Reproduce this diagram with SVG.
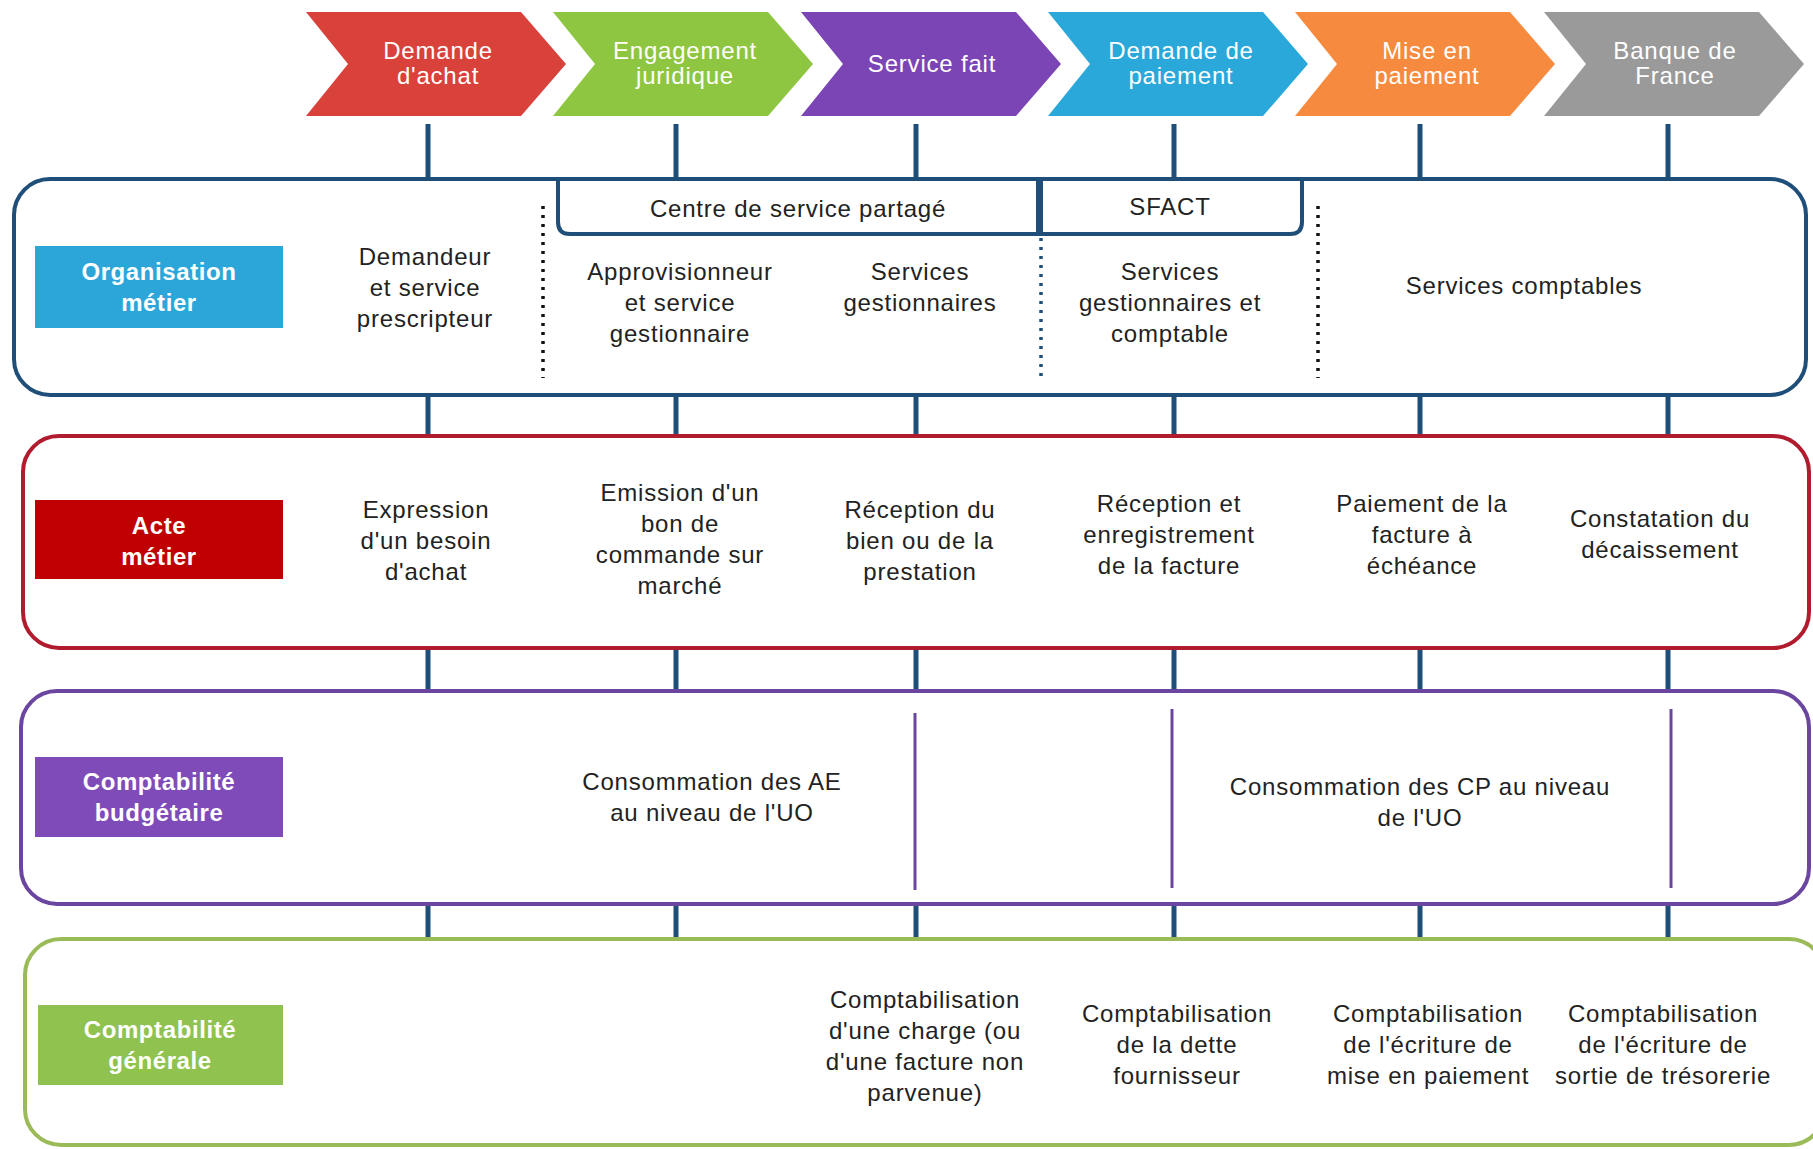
<svg xmlns="http://www.w3.org/2000/svg" width="1813" height="1149" viewBox="0 0 1813 1149">
<style>
.t{font-family:"Liberation Sans",Arial,sans-serif;font-size:24px;letter-spacing:0.8px;fill:#222;text-anchor:middle}
.ct{font-family:"Liberation Sans",Arial,sans-serif;font-size:24px;letter-spacing:0.8px;fill:#fff;text-anchor:middle}
.lb{font-family:"Liberation Sans",Arial,sans-serif;font-size:24px;font-weight:bold;letter-spacing:0.6px;fill:#fff;text-anchor:middle}
.conn{stroke:#1f4e79;stroke-width:5;fill:none}
.lane{fill:#fff;stroke-width:4}
.dot{stroke:#111;stroke-width:3.5;stroke-dasharray:3 6;fill:none}
.vl{stroke:#6b46a0;stroke-width:3;fill:none}
</style>
<rect width="1813" height="1149" fill="#fff"/>

<g id="connectors">
<path class="conn" d="M428,124V179M676,124V179M916,124V179M1174,124V179M1420,124V179M1668,124V179"/>
<path class="conn" d="M428,395V436M676,395V436M916,395V436M1174,395V436M1420,395V436M1668,395V436"/>
<path class="conn" d="M428,648V691M676,648V691M916,648V691M1174,648V691M1420,648V691M1668,648V691"/>
<path class="conn" d="M428,904V939M676,904V939M916,904V939M1174,904V939M1420,904V939M1668,904V939"/>
</g>

<g id="chevrons">
<g id="ch-demande-achat">
<polygon points="306,12 521,12 566,64 521,116 306,116 348,64" fill="#d9413b"/>
<text class="ct" x="438" y="59">Demande<tspan x="438" dy="25">d'achat</tspan></text>
</g>
<g id="ch-engagement">
<polygon points="553,12 768,12 813,64 768,116 553,116 595,64" fill="#8ec641"/>
<text class="ct" x="685" y="59">Engagement<tspan x="685" dy="25">juridique</tspan></text>
</g>
<g id="ch-service-fait">
<polygon points="801,12 1016,12 1061,64 1016,116 801,116 843,64" fill="#7c45b5"/>
<text class="ct" x="932" y="72">Service fait</text>
</g>
<g id="ch-demande-paiement">
<polygon points="1048,12 1263,12 1308,64 1263,116 1048,116 1090,64" fill="#29a8d9"/>
<text class="ct" x="1181" y="59">Demande de<tspan x="1181" dy="25">paiement</tspan></text>
</g>
<g id="ch-mise-paiement">
<polygon points="1295,12 1510,12 1555,64 1510,116 1295,116 1337,64" fill="#f68b3f"/>
<text class="ct" x="1427" y="59">Mise en<tspan x="1427" dy="25">paiement</tspan></text>
</g>
<g id="ch-bdf">
<polygon points="1544,12 1759,12 1804,64 1759,116 1544,116 1586,64" fill="#9a9a9a"/>
<text class="ct" x="1675" y="59">Banque de<tspan x="1675" dy="25">France</tspan></text>
</g>
</g>

<g id="lane-organisation">
<rect class="lane" x="14" y="179" width="1792" height="216" rx="36" stroke="#1f4e79"/>
<rect x="35" y="246" width="248" height="82" fill="#2ca6d9"/>
<text class="lb" x="159" y="280">Organisation<tspan x="159" dy="31">métier</tspan></text>
<text class="t" x="425" y="265">Demandeur<tspan x="425" dy="31">et service</tspan><tspan x="425" dy="31">prescripteur</tspan></text>
<path class="dot" d="M543,206V378"/>
<path d="M558,179V222Q558,234 570,234H1038V179" fill="none" stroke="#1f4e79" stroke-width="4"/>
<text class="t" x="798" y="217">Centre de service partagé</text>
<path d="M1041,179V234H1290Q1302,234 1302,222V179" fill="none" stroke="#1f4e79" stroke-width="4"/>
<text class="t" x="1170" y="215">SFACT</text>
<path d="M1041,238V382" fill="none" stroke="#1f4e79" stroke-width="3.5" stroke-dasharray="3 6"/>
<path class="dot" d="M1318,206V378"/>
<text class="t" x="680" y="280">Approvisionneur<tspan x="680" dy="31">et service</tspan><tspan x="680" dy="31">gestionnaire</tspan></text>
<text class="t" x="920" y="280">Services<tspan x="920" dy="31">gestionnaires</tspan></text>
<text class="t" x="1170" y="280">Services<tspan x="1170" dy="31">gestionnaires et</tspan><tspan x="1170" dy="31">comptable</tspan></text>
<text class="t" x="1524" y="294">Services comptables</text>
</g>

<g id="lane-acte">
<rect class="lane" x="23" y="436" width="1786" height="212" rx="36" stroke="#b01c2e"/>
<rect x="35" y="500" width="248" height="79" fill="#c00000"/>
<text class="lb" x="159" y="534">Acte<tspan x="159" dy="31">métier</tspan></text>
<text class="t" x="426" y="518">Expression<tspan x="426" dy="31">d'un besoin</tspan><tspan x="426" dy="31">d'achat</tspan></text>
<text class="t" x="680" y="501">Emission d'un<tspan x="680" dy="31">bon de</tspan><tspan x="680" dy="31">commande sur</tspan><tspan x="680" dy="31">marché</tspan></text>
<text class="t" x="920" y="518">Réception du<tspan x="920" dy="31">bien ou de la</tspan><tspan x="920" dy="31">prestation</tspan></text>
<text class="t" x="1169" y="512">Réception et<tspan x="1169" dy="31">enregistrement</tspan><tspan x="1169" dy="31">de la facture</tspan></text>
<text class="t" x="1422" y="512">Paiement de la<tspan x="1422" dy="31">facture à</tspan><tspan x="1422" dy="31">échéance</tspan></text>
<text class="t" x="1660" y="527">Constatation du<tspan x="1660" dy="31">décaissement</tspan></text>
</g>

<g id="lane-budgetaire">
<rect class="lane" x="21" y="691" width="1788" height="213" rx="36" stroke="#6b46a0"/>
<rect x="35" y="757" width="248" height="80" fill="#7e4bb8"/>
<text class="lb" x="159" y="790">Comptabilité<tspan x="159" dy="31">budgétaire</tspan></text>
<path class="vl" d="M915,713V890M1172,709V888M1671,709V888"/>
<text class="t" x="712" y="790">Consommation des AE<tspan x="712" dy="31">au niveau de l'UO</tspan></text>
<text class="t" x="1420" y="795">Consommation des CP au niveau<tspan x="1420" dy="31">de l'UO</tspan></text>
</g>

<g id="lane-generale">
<rect class="lane" x="25" y="939" width="1800" height="206" rx="36" stroke="#9bbb59"/>
<rect x="38" y="1005" width="245" height="80" fill="#8fc24f"/>
<text class="lb" x="160" y="1038">Comptabilité<tspan x="160" dy="31">générale</tspan></text>
<text class="t" x="925" y="1008">Comptabilisation<tspan x="925" dy="31">d'une charge (ou</tspan><tspan x="925" dy="31">d'une facture non</tspan><tspan x="925" dy="31">parvenue)</tspan></text>
<text class="t" x="1177" y="1022">Comptabilisation<tspan x="1177" dy="31">de la dette</tspan><tspan x="1177" dy="31">fournisseur</tspan></text>
<text class="t" x="1428" y="1022">Comptabilisation<tspan x="1428" dy="31">de l'écriture de</tspan><tspan x="1428" dy="31">mise en paiement</tspan></text>
<text class="t" x="1663" y="1022">Comptabilisation<tspan x="1663" dy="31">de l'écriture de</tspan><tspan x="1663" dy="31">sortie de trésorerie</tspan></text>
</g>
</svg>
